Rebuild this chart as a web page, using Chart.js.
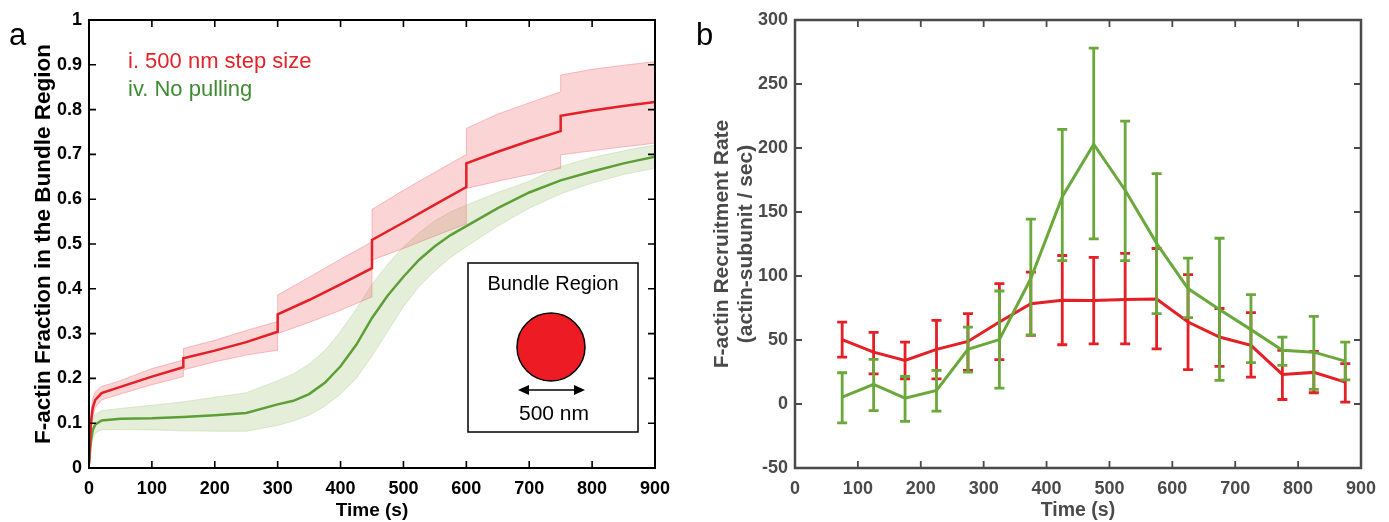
<!DOCTYPE html>
<html lang="en">
<head>
  <meta charset="UTF-8" />
  <title>F-actin Recruitment</title>
  <script src="https://cdn.jsdelivr.net/npm/chart.js"></script>
  <style>
    body {
      margin: 0;
      background: #ffffff;
      width: 1389px;
      height: 522px;
      position: relative;
      overflow: hidden;
      font-family: 'Liberation Sans', Arial, Helvetica, sans-serif;
    }

    .panel {
      position: absolute;
      top: 0;
      height: 522px;
    }

    #panelA { left: 0; width: 690px; }
    #panelB { left: 690px; width: 699px; }

    canvas { display: block; }

    svg.overlay {
      position: absolute;
      left: 0;
      top: 0;
      pointer-events: none;
      font-family: 'Liberation Sans', Arial, Helvetica, sans-serif;
    }
  </style>
</head>

<body>
  <div class="panel" id="panelA"><canvas id="fractionChart" width="690" height="522"></canvas></div>
  <div class="panel" id="panelB"><canvas id="rateChart" width="699" height="522"></canvas></div>

  <svg class="overlay" width="1389" height="522">
    <text x="9" y="45" font-size="31" fill="#000">a</text>
    <text x="696" y="45" font-size="31" fill="#000">b</text>

    <text x="128" y="68" font-size="22" fill="#e3232b">i. 500 nm step size</text>
    <text x="128" y="96" font-size="22" fill="#3f8a33">iv. No pulling</text>

    <rect x="468" y="263" width="170" height="169" fill="#fff" stroke="#000" stroke-width="1.5" />
    <text x="553" y="290" font-size="20" text-anchor="middle" fill="#000">Bundle Region</text>
    <circle cx="551" cy="347" r="34" fill="#ed1c24" stroke="#000" stroke-width="1.5" />
    <line x1="526" y1="390" x2="577" y2="390" stroke="#000" stroke-width="1.5" />
    <polygon points="518,390 529,385 529,395" fill="#000" />
    <polygon points="585,390 574,385 574,395" fill="#000" />
    <text x="554" y="420" font-size="21" text-anchor="middle" fill="#000">500 nm</text>
  </svg>

  <script>
    // panel a: fraction of F-actin in the bundle region
    const redTime = [0, 3, 6, 10, 20, 50, 100, 150, 150, 200, 250, 300, 300, 350, 400, 450, 450, 500, 550, 600, 600, 650, 700, 750, 750, 800, 850, 900];
    const redMean = [0.01, 0.10, 0.135, 0.152, 0.167, 0.181, 0.204, 0.225, 0.245, 0.262, 0.281, 0.304, 0.343, 0.375, 0.41, 0.446, 0.509, 0.548, 0.588, 0.627, 0.68, 0.706, 0.73, 0.752, 0.786, 0.798, 0.808, 0.817];
    const redUpper = [0.02, 0.12, 0.155, 0.17, 0.182, 0.195, 0.222, 0.241, 0.267, 0.285, 0.307, 0.327, 0.386, 0.426, 0.466, 0.505, 0.577, 0.62, 0.66, 0.70, 0.758, 0.79, 0.815, 0.84, 0.877, 0.89, 0.899, 0.907];
    const redLower = [0, 0.08, 0.115, 0.135, 0.152, 0.165, 0.186, 0.204, 0.219, 0.237, 0.252, 0.263, 0.30, 0.325, 0.352, 0.382, 0.464, 0.49, 0.518, 0.545, 0.624, 0.64, 0.655, 0.669, 0.699, 0.708, 0.717, 0.725];

    const greenTime = [0, 3, 6, 10, 20, 50, 100, 150, 200, 250, 300, 325, 350, 375, 400, 425, 450, 475, 500, 525, 550, 575, 600, 650, 700, 750, 800, 850, 900];
    const greenMean = [0.01, 0.06, 0.085, 0.097, 0.106, 0.11, 0.111, 0.114, 0.118, 0.123, 0.142, 0.15, 0.165, 0.19, 0.227, 0.275, 0.335, 0.385, 0.427, 0.465, 0.495, 0.52, 0.54, 0.58, 0.615, 0.642, 0.662, 0.68, 0.695];
    const greenUpper = [0.02, 0.08, 0.11, 0.12, 0.128, 0.133, 0.14, 0.148, 0.158, 0.168, 0.195, 0.21, 0.232, 0.262, 0.305, 0.355, 0.41, 0.455, 0.494, 0.525, 0.552, 0.572, 0.587, 0.615, 0.64, 0.673, 0.693, 0.708, 0.721];
    const greenLower = [0, 0.04, 0.065, 0.078, 0.085, 0.086, 0.085, 0.083, 0.082, 0.082, 0.095, 0.105, 0.118, 0.138, 0.165, 0.2, 0.25, 0.305, 0.36, 0.405, 0.44, 0.47, 0.494, 0.54, 0.58, 0.612, 0.636, 0.655, 0.669];

    // panel b: recruitment rate with error bars
    const rateTime = [75, 125, 175, 225, 275, 325, 375, 425, 475, 525, 575, 625, 675, 725, 775, 825, 875];
    const redRate = [50.3, 40.5, 34, 42.7, 48.9, 64, 78.4, 81, 80.9, 81.6, 82, 64, 52.3, 45.8, 23.1, 24.7, 17.1];
    const redRateLow = [36.6, 23.6, 19.7, 19.7, 26.2, 34.6, 53.6, 46.3, 47, 47, 43, 26.8, 29.4, 21, 3.5, 8.8, 1.4];
    const redRateHigh = [64, 56, 48.4, 65.4, 70.6, 94, 103, 116, 114.5, 117.6, 121.5, 101, 74.6, 71.4, 41.9, 41.1, 31.5];
    const greenRate = [5.3, 15.3, 4.5, 10.6, 42.7, 50.3, 98, 162, 203, 167, 125.5, 90.2, 73.8, 58.1, 41.9, 40.5, 33.5];
    const greenRateLow = [-14.7, -5.1, -13.5, -5.6, 24.9, 12.4, 54, 112, 129, 112, 70.6, 67.5, 18.4, 32.3, 30.1, 11.4, 18.9];
    const greenRateHigh = [24.4, 34.8, 21.5, 26.2, 60.1, 88.3, 144.5, 214.6, 278, 221, 180, 114, 129.5, 85.5, 52.3, 68.5, 48.4];

    const FONT = "'Liberation Sans', Arial, Helvetica, sans-serif";
    const RED = '#e41f26';
    const GREEN_A = '#5c9f36';
    const GREEN_B = '#6aa83c';

    function points(xs, ys) {
      return xs.map((x, i) => ({ x: x, y: ys[i] }));
    }

    // box round the plot with inward ticks on all four sides
    const framePlugin = {
      id: 'frame',
      afterDatasetsDraw(chart, args, opts) {
        const { ctx, chartArea: a, scales: { x, y } } = chart;
        const len = 7;
        ctx.save();
        ctx.strokeStyle = opts.color;
        ctx.lineWidth = opts.tickWidth;
        ctx.beginPath();
        x.ticks.forEach(t => {
          const px = x.getPixelForValue(t.value);
          ctx.moveTo(px, a.bottom); ctx.lineTo(px, a.bottom - len);
          ctx.moveTo(px, a.top); ctx.lineTo(px, a.top + len);
        });
        y.ticks.forEach(t => {
          const py = y.getPixelForValue(t.value);
          ctx.moveTo(a.left, py); ctx.lineTo(a.left + len, py);
          ctx.moveTo(a.right, py); ctx.lineTo(a.right - len, py);
        });
        ctx.stroke();
        ctx.lineWidth = opts.width;
        ctx.strokeRect(a.left, a.top, a.right - a.left, a.bottom - a.top);
        ctx.restore();
      }
    };

    const errorBarPlugin = {
      id: 'errorBars',
      afterDatasetDraw(chart, args) {
        const ds = chart.data.datasets[args.index];
        if (!ds.errLow) return;
        const { ctx, scales: { x, y } } = chart;
        ctx.save();
        ctx.strokeStyle = ds.borderColor;
        ctx.lineWidth = 2.8;
        ctx.beginPath();
        ds.data.forEach((p, i) => {
          const px = x.getPixelForValue(p.x);
          const lo = y.getPixelForValue(ds.errLow[i]);
          const hi = y.getPixelForValue(ds.errHigh[i]);
          ctx.moveTo(px, lo); ctx.lineTo(px, hi);
          ctx.moveTo(px - 5, lo); ctx.lineTo(px + 5, lo);
          ctx.moveTo(px - 5, hi); ctx.lineTo(px + 5, hi);
        });
        ctx.stroke();
        ctx.restore();
      }
    };

    function axisOptions(o) {
      return {
        type: 'linear',
        min: o.min,
        max: o.max,
        grid: { display: false, drawTicks: false },
        border: { display: false },
        ticks: {
          stepSize: o.step,
          color: o.color,
          padding: o.tickPad,
          font: { family: FONT, size: o.tickSize, weight: 'bold' },
          callback: v => String(Number(v.toFixed(2)))
        },
        title: {
          display: true,
          text: o.title,
          color: o.color,
          padding: o.titlePad,
          font: { family: FONT, size: o.titleSize, weight: 'bold', lineHeight: o.lineHeight || 1.2 }
        },
        afterFit: o.fit
      };
    }

    new Chart(document.getElementById('fractionChart'), {
      type: 'line',
      data: {
        datasets: [
          { data: points(redTime, redMean), borderColor: RED, borderWidth: 2.5, order: 0 },
          { data: points(greenTime, greenMean), borderColor: GREEN_A, borderWidth: 2.5, order: 0 },
          { data: points(redTime, redUpper), borderColor: 'rgba(232, 90, 100, 0.45)', borderWidth: 0.8, order: 1 },
          { data: points(redTime, redLower), borderColor: 'rgba(232, 90, 100, 0.45)', borderWidth: 0.8, order: 1,
            fill: '-1', backgroundColor: 'rgba(238, 90, 95, 0.26)' },
          { data: points(greenTime, greenUpper), borderColor: 'rgba(150, 190, 110, 0.35)', borderWidth: 0.8, order: 2 },
          { data: points(greenTime, greenLower), borderColor: 'rgba(150, 190, 110, 0.35)', borderWidth: 0.8, order: 2,
            fill: '-1', backgroundColor: 'rgba(160, 195, 120, 0.28)' }
        ]
      },
      options: {
        responsive: false,
        animation: false,
        devicePixelRatio: 1,
        layout: { padding: { left: 0, top: 20, right: 35, bottom: 0 } },
        elements: { point: { radius: 0 }, line: { tension: 0 } },
        plugins: {
          legend: { display: false },
          tooltip: { enabled: false },
          frame: { color: '#000', width: 2, tickWidth: 1.6 }
        },
        scales: {
          x: axisOptions({
            min: 0, max: 900, step: 100, color: '#000', tickSize: 18, tickPad: 10,
            title: 'Time (s)', titleSize: 19, titlePad: { top: 0, bottom: 0 },
            fit: s => { s.height = 54; }
          }),
          y: axisOptions({
            min: 0, max: 1, step: 0.1, color: '#000', tickSize: 18, tickPad: 7,
            title: 'F-actin Fraction in the Bundle Region', titleSize: 22.5, titlePad: { top: 30, bottom: 0 },
            fit: s => { s.width = 89; }
          })
        }
      },
      plugins: [framePlugin]
    });

    new Chart(document.getElementById('rateChart'), {
      type: 'line',
      data: {
        datasets: [
          { data: points(rateTime, greenRate), borderColor: GREEN_B, borderWidth: 3,
            errLow: greenRateLow, errHigh: greenRateHigh },
          { data: points(rateTime, redRate), borderColor: RED, borderWidth: 3,
            errLow: redRateLow, errHigh: redRateHigh }
        ]
      },
      options: {
        responsive: false,
        animation: false,
        devicePixelRatio: 1,
        layout: { padding: { left: 0, top: 20, right: 28, bottom: 0 } },
        elements: { point: { radius: 0 }, line: { tension: 0 } },
        plugins: {
          legend: { display: false },
          tooltip: { enabled: false },
          frame: { color: '#4a4a4a', width: 2.5, tickWidth: 1.8 }
        },
        scales: {
          x: axisOptions({
            min: 0, max: 900, step: 100, color: '#4a4a4a', tickSize: 18, tickPad: 10,
            title: 'Time (s)', titleSize: 19.5, titlePad: { top: 0, bottom: 0 },
            fit: s => { s.height = 54; }
          }),
          y: axisOptions({
            min: -50, max: 300, step: 50, color: '#4a4a4a', tickSize: 18, tickPad: 7,
            title: ['F-actin Recruitment Rate', '(actin-subunit / sec)'], titleSize: 21, lineHeight: 1.15,
            titlePad: { top: 20, bottom: 0 },
            fit: s => { s.width = 105; }
          })
        }
      },
      plugins: [framePlugin, errorBarPlugin]
    });
  </script>
</body>

</html>
